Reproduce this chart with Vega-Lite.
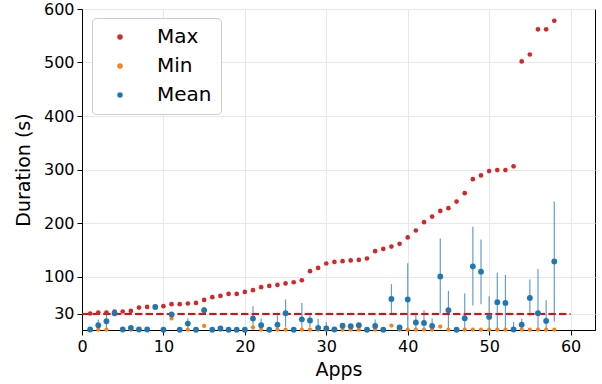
{
  "$schema": "https://vega.github.io/schema/vega-lite/v6.json",
  "autosize": "none",
  "width": 513,
  "height": 321,
  "padding": {"left": 82, "top": 9, "right": 7, "bottom": 54},
  "background": "white",
  "config": {
    "view": {"stroke": "black", "strokeWidth": 1},
    "font": "DejaVu Sans",
    "axis": {
      "labelFont": "DejaVu Sans", "labelFontSize": 16, "labelColor": "black", "labelFlush": false,
      "titleFont": "DejaVu Sans", "titleFontSize": 19, "titleFontWeight": "normal", "titleColor": "black",
      "domainColor": "black", "tickColor": "black", "tickSize": 5, "labelPadding": 3,
      "gridColor": "#e6e6f5", "gridWidth": 1
    },
    "legend": {
      "labelFont": "DejaVu Sans", "labelFontSize": 20, "labelColor": "black"
    }
  },
  "datasets": {
    "apps": [
      {"app": 1, "max": 30.8, "min": 0.5, "mean": 1, "lo": 1, "hi": 1},
      {"app": 2, "max": 32.7, "min": 0.5, "mean": 9, "lo": -1.6, "hi": 19.6},
      {"app": 3, "max": 32.7, "min": 0.5, "mean": 16.4, "lo": 1.8, "hi": 31},
      {"app": 4, "max": 34.6, "min": 29, "mean": 31.4, "lo": 29, "hi": 34},
      {"app": 5, "max": 34.6, "min": 0.5, "mean": 1, "lo": 1, "hi": 1},
      {"app": 6, "max": 35.7, "min": 0.5, "mean": 4, "lo": 4, "hi": 4},
      {"app": 7, "max": 42, "min": 0.5, "mean": 1, "lo": 1, "hi": 1},
      {"app": 8, "max": 43.2, "min": 0.5, "mean": 1, "lo": 1, "hi": 1},
      {"app": 9, "max": 43.5, "min": 42.5, "mean": 43, "lo": 43, "hi": 43},
      {"app": 10, "max": 44.5, "min": 0.5, "mean": 0.5, "lo": 0.5, "hi": 0.5},
      {"app": 11, "max": 48.2, "min": 21.5, "mean": 29, "lo": 27, "hi": 31},
      {"app": 12, "max": 48.2, "min": 0.5, "mean": 0.5, "lo": 0.5, "hi": 0.5},
      {"app": 13, "max": 49.5, "min": 0.5, "mean": 12, "lo": 2.5, "hi": 21.5},
      {"app": 14, "max": 50.7, "min": 0.5, "mean": 0.5, "lo": 0.5, "hi": 0.5},
      {"app": 15, "max": 56.3, "min": 7.7, "mean": 37, "lo": 31, "hi": 43},
      {"app": 16, "max": 61.3, "min": 0.5, "mean": 0.5, "lo": 0.5, "hi": 0.5},
      {"app": 17, "max": 63.7, "min": 0.5, "mean": 3, "lo": 3, "hi": 3},
      {"app": 18, "max": 67.5, "min": 0.5, "mean": 0.5, "lo": 0.5, "hi": 0.5},
      {"app": 19, "max": 67.5, "min": 0.5, "mean": 0.5, "lo": 0.5, "hi": 0.5},
      {"app": 20, "max": 71.2, "min": 0.5, "mean": 0.5, "lo": 0.5, "hi": 0.5},
      {"app": 21, "max": 74.4, "min": 5, "mean": 21.5, "lo": -1.5, "hi": 44.5},
      {"app": 22, "max": 80, "min": 0.5, "mean": 9, "lo": -3.5, "hi": 21.5},
      {"app": 23, "max": 82.4, "min": 0.5, "mean": 0.5, "lo": 0.5, "hi": 0.5},
      {"app": 24, "max": 84.3, "min": 0.5, "mean": 10, "lo": -7.7, "hi": 27.7},
      {"app": 25, "max": 87, "min": 0.5, "mean": 31.4, "lo": 5.8, "hi": 57},
      {"app": 26, "max": 89.3, "min": 0.5, "mean": 0.5, "lo": 0.5, "hi": 0.5},
      {"app": 27, "max": 93, "min": 0.5, "mean": 20, "lo": -10.7, "hi": 50.7},
      {"app": 28, "max": 110, "min": 0.5, "mean": 17.8, "lo": 4.6, "hi": 31},
      {"app": 29, "max": 116, "min": 0.5, "mean": 4, "lo": -13.5, "hi": 21.5},
      {"app": 30, "max": 124.3, "min": 0.5, "mean": 3, "lo": -9, "hi": 15},
      {"app": 31, "max": 127.3, "min": 0.5, "mean": 1, "lo": 1, "hi": 1},
      {"app": 32, "max": 128.6, "min": 0.5, "mean": 8, "lo": 8, "hi": 8},
      {"app": 33, "max": 130, "min": 0.5, "mean": 7, "lo": 7, "hi": 7},
      {"app": 34, "max": 131, "min": 0.5, "mean": 9, "lo": 9, "hi": 9},
      {"app": 35, "max": 133.6, "min": 0.5, "mean": 0.5, "lo": 0.5, "hi": 0.5},
      {"app": 36, "max": 147.3, "min": 0.5, "mean": 7.5, "lo": -4.6, "hi": 19.6},
      {"app": 37, "max": 151.6, "min": 0.5, "mean": 0.5, "lo": 0.5, "hi": 0.5},
      {"app": 38, "max": 156, "min": 8.4, "mean": 58, "lo": 31, "hi": 85.6},
      {"app": 39, "max": 161, "min": 0.5, "mean": 4.7, "lo": 4.7, "hi": 4.7},
      {"app": 40, "max": 173, "min": 0.5, "mean": 57, "lo": -11, "hi": 125},
      {"app": 41, "max": 186, "min": 0.5, "mean": 14, "lo": -3, "hi": 31},
      {"app": 42, "max": 201.5, "min": 0.5, "mean": 13.3, "lo": -10.4, "hi": 37},
      {"app": 43, "max": 212, "min": 0.5, "mean": 7.7, "lo": -6, "hi": 21.5},
      {"app": 44, "max": 222.6, "min": 6.5, "mean": 100, "lo": 31, "hi": 171},
      {"app": 45, "max": 227.7, "min": 0.5, "mean": 37, "lo": 1, "hi": 73},
      {"app": 46, "max": 240, "min": 0.5, "mean": 0.5, "lo": 0.5, "hi": 0.5},
      {"app": 47, "max": 255.7, "min": 0.5, "mean": 22, "lo": -24, "hi": 68},
      {"app": 48, "max": 282, "min": 0.5, "mean": 119, "lo": 46, "hi": 193},
      {"app": 49, "max": 289, "min": 0.5, "mean": 109, "lo": 48, "hi": 169},
      {"app": 50, "max": 297, "min": 0.5, "mean": 24.5, "lo": -14, "hi": 63},
      {"app": 51, "max": 299, "min": 0.5, "mean": 52, "lo": -3, "hi": 107},
      {"app": 52, "max": 299, "min": 0.5, "mean": 50.7, "lo": -1.6, "hi": 103},
      {"app": 53, "max": 306, "min": 0.5, "mean": 1, "lo": -13, "hi": 15},
      {"app": 54, "max": 502, "min": 0.5, "mean": 10, "lo": -1.5, "hi": 21.5},
      {"app": 55, "max": 515, "min": 0.5, "mean": 60, "lo": 25.6, "hi": 94.4},
      {"app": 56, "max": 562, "min": 0.5, "mean": 31.4, "lo": -51, "hi": 114},
      {"app": 57, "max": 562, "min": 0.5, "mean": 17, "lo": -21.7, "hi": 55.7},
      {"app": 58, "max": 578, "min": 0.5, "mean": 128, "lo": 16, "hi": 240}
    ],
    "threshold": [{"app": 0, "app_end": 60, "level": 30}]
  },
  "data": {"name": "apps"},
  "encoding": {
    "x": {
      "field": "app", "type": "quantitative", "title": "Apps",
      "scale": {"domain": [0, 63], "nice": false, "zero": false},
      "axis": {"values": [0, 10, 20, 30, 40, 50, 60], "titlePadding": 6}
    }
  },
  "layer": [
    {
      "mark": {"type": "rule", "color": "#1f77b4", "opacity": 0.7, "strokeWidth": 1.2, "clip": true},
      "encoding": {
        "y": {"field": "lo", "type": "quantitative", "title": "Duration (s)",
              "scale": {"domain": [0, 600], "nice": false},
              "axis": {"values": [30, 100, 200, 300, 400, 500, 600], "titlePadding": 10}},
        "y2": {"field": "hi"}
      }
    },
    {
      "data": {"name": "threshold"},
      "mark": {"type": "rule", "color": "#ff0000", "strokeWidth": 2, "strokeDash": [7.4, 3.2]},
      "encoding": {
        "x2": {"field": "app_end"},
        "y": {"field": "level", "type": "quantitative", "title": "Duration (s)"}
      }
    },
    {
      "mark": {"type": "point", "filled": true, "opacity": 1, "size": 22},
      "encoding": {
        "y": {"field": "max", "type": "quantitative", "title": "Duration (s)"},
        "color": {
          "datum": "Max", "type": "nominal",
          "scale": {"domain": ["Max", "Min", "Mean"], "range": ["#d62728", "#ff7f0e", "#1f77b4"]},
          "legend": {
            "title": null, "orient": "none", "legendX": 10, "legendY": 9,
            "padding": 9, "rowPadding": 9, "symbolSize": 30, "symbolType": "circle",
            "symbolOffset": 9, "labelOffset": 27, "symbolOpacity": 1,
            "fillColor": "rgba(255,255,255,0.85)", "strokeColor": "#cccccc", "cornerRadius": 4
          }
        }
      }
    },
    {
      "mark": {"type": "point", "filled": true, "opacity": 1, "size": 18},
      "encoding": {
        "y": {"field": "min", "type": "quantitative", "title": "Duration (s)"},
        "color": {"datum": "Min", "type": "nominal"}
      }
    },
    {
      "mark": {"type": "point", "filled": true, "opacity": 1, "size": 34},
      "encoding": {
        "y": {"field": "mean", "type": "quantitative", "title": "Duration (s)"},
        "color": {"datum": "Mean", "type": "nominal"}
      }
    }
  ]
}
